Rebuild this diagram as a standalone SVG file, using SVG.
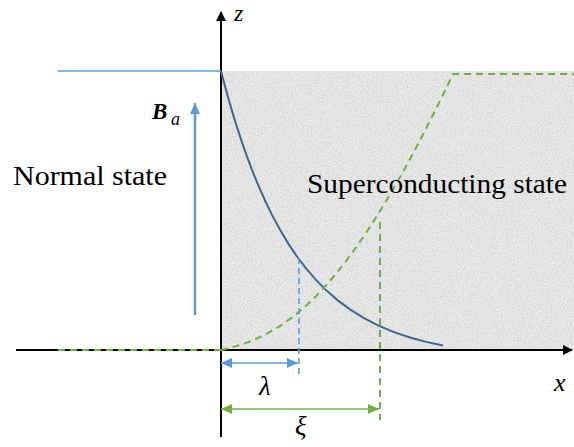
<svg xmlns="http://www.w3.org/2000/svg" width="574" height="447" viewBox="0 0 574 447">
<defs>
<style>
.ax{stroke:#000;stroke-width:2;fill:none}
.gd{stroke:#70AD47;stroke-width:2;fill:none;stroke-dasharray:7 5}
.bd{stroke:#5B9BD5;stroke-width:1.6;fill:none;stroke-dasharray:6 4}
.t{font-family:'Liberation Serif','DejaVu Serif','Times New Roman',serif;fill:#000}
</style>
<marker id="ak" markerWidth="10" markerHeight="10" refX="9" refY="5" orient="auto" markerUnits="userSpaceOnUse"><path d="M0,0 L10,5 L0,10 Z" fill="#000"/></marker>
<marker id="ab" markerWidth="12" markerHeight="12" refX="11" refY="6" orient="auto-start-reverse" markerUnits="userSpaceOnUse"><path d="M0,1 L11,6 L0,11 Z" fill="#5B9BD5"/></marker>
<marker id="ag" markerWidth="12" markerHeight="12" refX="11" refY="6" orient="auto-start-reverse" markerUnits="userSpaceOnUse"><path d="M0,1 L11,6 L0,11 Z" fill="#70AD47"/></marker>
<filter id="noise" x="0" y="0" width="100%" height="100%">
<feTurbulence type="fractalNoise" baseFrequency="0.8" numOctaves="2" seed="4" result="n"/>
<feColorMatrix in="n" type="matrix" values="0 0 0 0 0.5  0 0 0 0 0.5  0 0 0 0 0.5  1.2 0 0 0 -0.45"/>
</filter>
</defs>
<g id="region">
<rect x="221" y="71" width="353" height="279" fill="#ebebeb"/>
<rect x="221" y="71" width="353" height="279" fill="#fff" filter="url(#noise)"/>
</g>
<g id="axes">
<line class="ax" x1="16" y1="350" x2="572" y2="350" marker-end="url(#ak)"/>
<line class="ax" x1="221" y1="437" x2="221" y2="12" marker-end="url(#ak)"/>
</g>
<g id="connectors">
<line x1="58" y1="71" x2="221" y2="71" stroke="#5B9BD5" stroke-width="1.6"/>
<polyline fill="none" stroke="#41668F" stroke-width="2" points="221,71 224,82.5 228,97.1 232,110.9 236,124 241,139.4 246,153.8 252,169.9 258,184.7 265,200.5 272,214.9 280,229.8 288,243.1 297,256.5 306,268.4 316,279.9 326,290.1 338,300.6 350,309.4 364,318.2 378,325.4 394,332.1 410,337.5 426,341.9 443,345.6"/>
<line class="gd" x1="58" y1="350" x2="221" y2="350"/>
<path class="gd" d="M221,350 C290,335 350,290 453,74 L574,74"/>
<line class="bd" x1="299" y1="258" x2="299" y2="377"/>
<line class="gd" x1="380" y1="222" x2="380" y2="420"/>
<line x1="195" y1="315" x2="195" y2="103" stroke="#5B9BD5" stroke-width="2.5" marker-end="url(#ab)"/>
<line x1="221" y1="363" x2="298" y2="363" stroke="#5B9BD5" stroke-width="1.5" marker-start="url(#ab)" marker-end="url(#ab)"/>
<line x1="221" y1="409" x2="379" y2="409" stroke="#70AD47" stroke-width="1.5" marker-start="url(#ag)" marker-end="url(#ag)"/>
</g>
<g id="labels">
<text class="t" x="234" y="21" font-size="24" font-style="italic">z</text>
<text class="t" x="554" y="391" font-size="26" font-style="italic">x</text>
<text class="t" x="152" y="119" font-size="23" font-weight="bold" font-style="italic">B</text>
<text class="t" x="171" y="125" font-size="18" font-style="italic">a</text>
<text class="t" x="13" y="185" font-size="28" textLength="154" lengthAdjust="spacingAndGlyphs">Normal state</text>
<text class="t" x="307" y="193" font-size="27" textLength="260" lengthAdjust="spacingAndGlyphs">Superconducting state</text>
<text class="t" x="259" y="395" font-size="27" font-style="italic">λ</text>
<text class="t" x="295" y="435" font-size="27" font-style="italic">ξ</text>
</g>
</svg>
